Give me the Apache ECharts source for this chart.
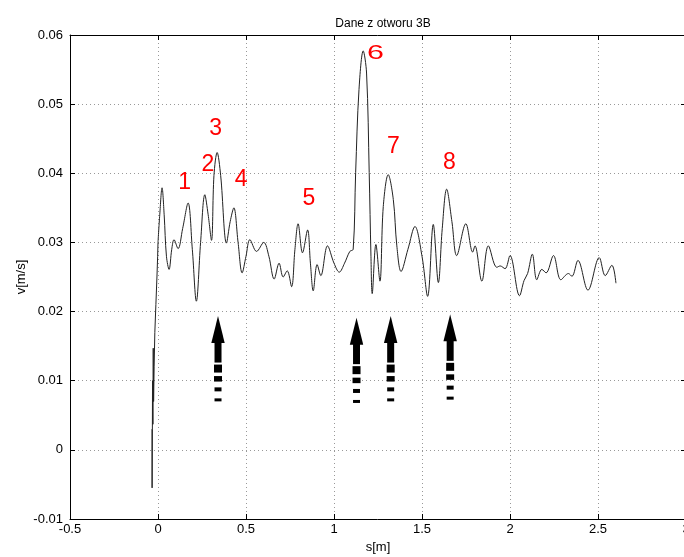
<!DOCTYPE html>
<html><head><meta charset="utf-8">
<script src="https://cdn.jsdelivr.net/npm/echarts@6/dist/echarts.min.js"></script>
<style>html,body{margin:0;padding:0;background:#fff}#c{width:684px;height:557px}</style>
</head><body><div id="c"></div>
<script>
const titleText = "Dane z otworu 3B";
const xName = "s[m]";
const yName = "v[m/s]";
const xTicks = [-0.5, 0, 0.5, 1, 1.5, 2, 2.5, 3];
const yTicks = [-0.01, 0, 0.01, 0.02, 0.03, 0.04, 0.05, 0.06];

// initial spike (unsmoothed)
const spikeS = [-0.034, -0.0335, -0.032, -0.031, -0.029, -0.027, -0.025, -0.022, -0.018, -0.012, -0.006, -0.002, 0.0];
const spikeV = [0.003, -0.0055, 0.0029, 0.010, 0.0037, 0.0147, 0.007, 0.012, 0.017, 0.021, 0.025, 0.028, 0.030];

// main signal
const sValues = [0.0, 0.010, 0.023, 0.035, 0.048, 0.063, 0.078, 0.091, 0.114, 0.140, 0.171, 0.195, 0.218, 0.242, 0.266, 0.285, 0.304, 0.318, 0.336, 0.356, 0.389, 0.410, 0.431, 0.455, 0.478, 0.500, 0.522, 0.560, 0.601, 0.630, 0.660, 0.688, 0.711, 0.734, 0.759, 0.778, 0.796, 0.821, 0.850, 0.866, 0.882, 0.904, 0.925, 0.963, 1.000, 1.030, 1.060, 1.090, 1.109, 1.123, 1.142, 1.166, 1.185, 1.200, 1.210, 1.217, 1.238, 1.261, 1.280, 1.308, 1.337, 1.357, 1.381, 1.420, 1.460, 1.500, 1.532, 1.564, 1.593, 1.615, 1.640, 1.670, 1.697, 1.749, 1.788, 1.801, 1.840, 1.877, 1.925, 1.944, 1.972, 2.000, 2.054, 2.080, 2.100, 2.127, 2.152, 2.181, 2.205, 2.247, 2.289, 2.332, 2.352, 2.386, 2.443, 2.507, 2.541, 2.579, 2.602];
const vValues = [0.0300, 0.0340, 0.0379, 0.0340, 0.0280, 0.0261, 0.0290, 0.0304, 0.0291, 0.0320, 0.0357, 0.0290, 0.0215, 0.0300, 0.0369, 0.0340, 0.0303, 0.0397, 0.0430, 0.0397, 0.0299, 0.0330, 0.0350, 0.0300, 0.0256, 0.0280, 0.0304, 0.0287, 0.0300, 0.0280, 0.0247, 0.0270, 0.0250, 0.0259, 0.0236, 0.0290, 0.0327, 0.0285, 0.0318, 0.0270, 0.0230, 0.0268, 0.0252, 0.0295, 0.0270, 0.0257, 0.0270, 0.0287, 0.0290, 0.0401, 0.0521, 0.0577, 0.0545, 0.0401, 0.0280, 0.0226, 0.0297, 0.0244, 0.0352, 0.0398, 0.0362, 0.0295, 0.0258, 0.0290, 0.0323, 0.0280, 0.0222, 0.0326, 0.0242, 0.0320, 0.0377, 0.0330, 0.0281, 0.0327, 0.0286, 0.0295, 0.0244, 0.0295, 0.0264, 0.0266, 0.0262, 0.0281, 0.0223, 0.0245, 0.0255, 0.0283, 0.0246, 0.0261, 0.0256, 0.0281, 0.0246, 0.0255, 0.0251, 0.0274, 0.0231, 0.0278, 0.0252, 0.0267, 0.0241];

// peak labels
const peakLabels = ["1", "2", "3", "4", "5", "6", "7", "8"];
const peakLabelS = [0.152, 0.283, 0.328, 0.473, 0.857, 1.236, 1.338, 1.656];
const peakLabelV = [0.0387, 0.0413, 0.0465, 0.0391, 0.0363, 0.0573, 0.0439, 0.0415];

// arrows (tip positions)
const arrowS = [0.341, 1.128, 1.322, 1.660];
const arrowV = [0.01935, 0.01912, 0.01935, 0.01960];

const chart = echarts.init(document.getElementById('c'));
const FONT = 'Liberation Sans, Arial, sans-serif';
const fmtY = v => String(+v.toFixed(2));
const fmtX = v => String(+v.toFixed(1));

chart.setOption({
  animation: false,
  backgroundColor: '#fff',
  title: {
    text: titleText, left: 378, top: 13, textAlign: 'center',
    textStyle: {fontFamily: FONT, fontSize: 12, fontWeight: 'normal', color: '#000'}
  },
  grid: {left: 70, top: 35, right: -2, bottom: 38, outerBoundsMode: 'none', containLabel: false},
  xAxis: [{
    type: 'value', min: -0.5, max: 3, interval: 0.5,
    name: xName, nameLocation: 'middle', nameGap: 22, nameMoveOverlap: false,
    nameTextStyle: {fontFamily: FONT, fontSize: 13, color: '#000'},
    axisLine: {onZero: false, lineStyle: {color: '#000', width: 1}},
    axisTick: {inside: true, length: 5, lineStyle: {color: '#000'}},
    axisLabel: {fontFamily: FONT, fontSize: 13, color: '#000', margin: 4, formatter: fmtX},
    splitLine: {show: true, lineStyle: {color: '#999', type: [1, 3], width: 1}}
  }, {
    type: 'value', min: -0.5, max: 3, interval: 0.5, position: 'top',
    axisLine: {onZero: false, lineStyle: {color: '#000', width: 1}},
    axisTick: {inside: true, length: 5, lineStyle: {color: '#000'}},
    axisLabel: {show: false}, splitLine: {show: false}
  }],
  yAxis: [{
    type: 'value', min: -0.01, max: 0.06, interval: 0.01,
    name: yName, nameLocation: 'middle', nameGap: 42, nameRotate: 90, nameMoveOverlap: false,
    nameTextStyle: {fontFamily: FONT, fontSize: 13, color: '#000'},
    axisLine: {show: true, onZero: false, lineStyle: {color: '#000', width: 1}},
    axisTick: {show: true, inside: true, length: 5, lineStyle: {color: '#000'}},
    axisLabel: {fontFamily: FONT, fontSize: 13, color: '#000', margin: 7, formatter: fmtY},
    splitLine: {show: true, lineStyle: {color: '#999', type: [1, 3], width: 1}}
  }, {
    type: 'value', min: -0.01, max: 0.06, interval: 0.01, position: 'right',
    axisLine: {show: true, onZero: false, lineStyle: {color: '#000', width: 1}},
    axisTick: {show: true, inside: true, length: 5, lineStyle: {color: '#000'}},
    axisLabel: {show: false}, splitLine: {show: false}
  }],
  series: [{
    type: 'line', showSymbol: false, smooth: false,
    data: spikeS.map((s, i) => [s, spikeV[i]]),
    lineStyle: {color: '#222', width: 1}
  }, {
    type: 'line', showSymbol: false, smooth: 0.35,
    data: sValues.map((s, i) => [s, vValues[i]]),
    lineStyle: {color: '#222', width: 1}
  }, {
    type: 'custom',
    data: arrowS.map((s, i) => [s, arrowV[i]]),
    renderItem: function (params, api) {
      const p = api.coord([api.value(0), api.value(1)]);
      const x = p[0], y = p[1];
      const st = {fill: '#000'};
      const dashes = [[48.5, 8, 8], [60, 5.5, 8], [71.3, 4, 7], [82.3, 3, 7]];
      const children = [
        {type: 'polygon', shape: {points: [[x, y], [x - 6.7, y + 27], [x + 6.7, y + 27]]}, style: st},
        {type: 'rect', shape: {x: x - 3.5, y: y + 26, width: 7, height: 20.5}, style: st}
      ];
      dashes.forEach(d => children.push({type: 'rect', shape: {x: x - d[2] / 2, y: y + d[0], width: d[2], height: d[1]}, style: st}));
      return {type: 'group', children: children};
    }
  }, {
    type: 'custom',
    data: peakLabelS.map((s, i) => [s, peakLabelV[i], i]),
    renderItem: function (params, api) {
      const p = api.coord([api.value(0), api.value(1)]);
      const idx = api.value(2);
      const is6 = peakLabels[idx] === '6';
      return {
        type: 'text', x: p[0], y: p[1], scaleX: is6 ? 1.45 : 1,
        style: {text: peakLabels[idx], fill: '#ff0000', font: (is6 ? '21px ' : '23px ') + FONT, align: 'center', verticalAlign: 'middle'}
      };
    }
  }]
});
</script></body></html>
